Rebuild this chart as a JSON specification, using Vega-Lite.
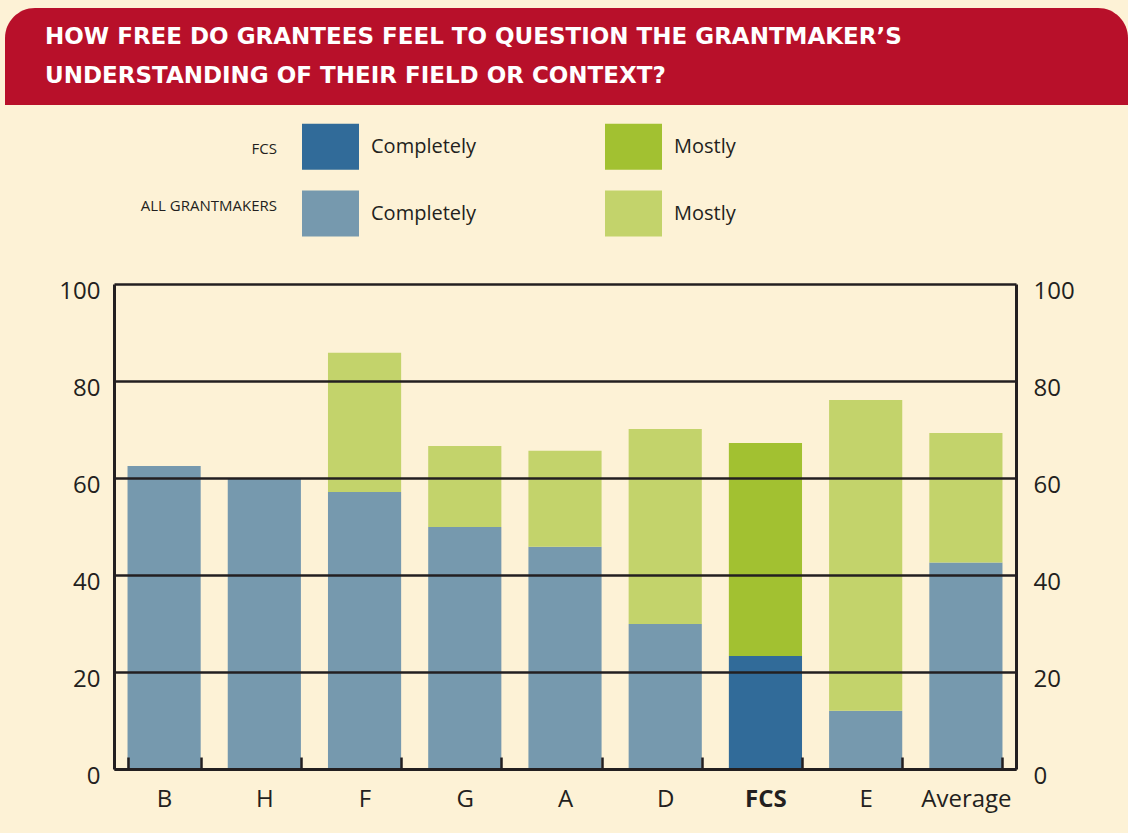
{
  "$schema": "https://vega.github.io/schema/vega-lite/v6.json",
  "background": "#FDF2D6",
  "padding": {"left": 5, "top": 8, "right": 0, "bottom": 22},
  "spacing": 13,
  "config": {
    "view": {"stroke": null},
    "font": "Open Sans"
  },
  "resolve": {"legend": {"color": "independent"}},
  "vconcat": [
    {
      "width": 1123,
      "height": 97,
      "data": {"values": [
        {"line": 1, "text": "HOW FREE DO GRANTEES FEEL TO QUESTION THE GRANTMAKER’S"},
        {"line": 2, "text": "UNDERSTANDING OF THEIR FIELD OR CONTEXT?"}
      ]},
      "layer": [
        {
          "transform": [{"filter": "datum.line === 1"}],
          "mark": {"type": "rect", "fill": "#B8102A", "cornerRadiusTopLeft": 30, "cornerRadiusTopRight": 30},
          "encoding": {}
        },
        {
          "mark": {"type": "text", "align": "left", "baseline": "middle", "dx": 40, "font": "DejaVu Sans", "fontWeight": "bold", "fontSize": 23, "color": "#FFFFFF"},
          "encoding": {
            "x": {"datum": "start", "type": "nominal", "scale": {"padding": 0, "align": 0}, "axis": null},
            "y": {"field": "line", "type": "ordinal", "scale": {"padding": 0.776}, "axis": null},
            "text": {"field": "text"}
          }
        }
      ],
      "resolve": {"scale": {"x": "independent", "y": "independent"}}
    },
    {
      "resolve": {"legend": {"color": "independent"}},
      "spacing": 0,
      "hconcat": [
        {
          "width": 1,
          "height": 1,
          "data": {"values": [{"spacer": 1}]},
          "mark": {"type": "rect", "opacity": 0},
          "encoding": {}
        },
        {
          "width": 902,
          "height": 485,
          "data": {"values": [
            {"cat": "B", "series": "All Completely", "ord": 1, "value": 62.5},
            {"cat": "H", "series": "All Completely", "ord": 1, "value": 60.0},
            {"cat": "F", "series": "All Completely", "ord": 1, "value": 57.1},
            {"cat": "F", "series": "All Mostly", "ord": 2, "value": 28.7},
            {"cat": "G", "series": "All Completely", "ord": 1, "value": 49.9},
            {"cat": "G", "series": "All Mostly", "ord": 2, "value": 16.7},
            {"cat": "A", "series": "All Completely", "ord": 1, "value": 45.8},
            {"cat": "A", "series": "All Mostly", "ord": 2, "value": 19.8},
            {"cat": "D", "series": "All Completely", "ord": 1, "value": 29.9},
            {"cat": "D", "series": "All Mostly", "ord": 2, "value": 40.2},
            {"cat": "FCS", "series": "FCS Completely", "ord": 1, "value": 23.3},
            {"cat": "FCS", "series": "FCS Mostly", "ord": 2, "value": 43.9},
            {"cat": "E", "series": "All Completely", "ord": 1, "value": 12.0},
            {"cat": "E", "series": "All Mostly", "ord": 2, "value": 64.1},
            {"cat": "Average", "series": "All Completely", "ord": 1, "value": 42.6},
            {"cat": "Average", "series": "All Mostly", "ord": 2, "value": 26.7}
          ]},
          "layer": [
            {
              "mark": {"type": "bar"},
              "encoding": {
                "x": {
                  "field": "cat", "type": "nominal", "title": null,
                  "sort": ["B", "H", "F", "G", "A", "D", "FCS", "E", "Average"],
                  "scale": {"paddingInner": 0.27, "paddingOuter": 0.135},
                  "axis": {
                    "orient": "bottom", "labelAngle": 0, "domainColor": "#231F20", "domainWidth": 3,
                    "tickBand": "extent", "tickColor": "#231F20", "tickWidth": 2.5, "tickSize": -12,
                    "labelPadding": 30, "labelFontSize": 24, "labelColor": "#231F20",
                    "labelFontWeight": {"condition": {"test": "datum.value === 'FCS'", "value": "bold"}, "value": "normal"},
                    "zindex": 1
                  }
                },
                "y": {
                  "field": "value", "type": "quantitative", "stack": "zero", "title": null,
                  "scale": {"domain": [0, 100], "nice": false},
                  "axis": {
                    "orient": "left", "values": [0, 20, 40, 60, 80, 100], "grid": true,
                    "gridColor": "#231F20", "gridWidth": 2.5, "domainColor": "#231F20", "domainWidth": 3,
                    "ticks": false, "labelPadding": 14, "labelFontSize": 24, "labelColor": "#231F20",
                    "labelOffset": 7, "minExtent": 108, "zindex": 1
                  }
                },
                "color": {
                  "field": "series", "type": "nominal",
                  "scale": {
                    "domain": ["FCS Completely", "FCS Mostly", "All Completely", "All Mostly"],
                    "range": ["#316B99", "#A2C131", "#7699AE", "#C3D36B"]
                  },
                  "legend": {
                    "orient": "none", "legendX": 27, "legendY": -166,
                    "direction": "horizontal", "columns": 2, "padding": 0,
                    "title": ["FCS", "ALL GRANTMAKERS"], "titleOrient": "left", "titleAlign": "right",
                    "titleAnchor": "middle", "titleBaseline": "middle",
                    "titleLineHeight": 57, "titlePadding": -112, "titleFont": "Open Sans",
                    "titleFontSize": 15, "titleFontWeight": "normal", "titleColor": "#231F20",
                    "symbolType": "M-1,-0.807H1V0.807H-1Z", "symbolSize": 3249,
                    "symbolStrokeWidth": 0, "symbolOpacity": 1,
                    "labelExpr": "split(datum.label, ' ')[1]", "labelFontSize": 20,
                    "labelColor": "#231F20", "labelOffset": 12,
                    "rowPadding": 15, "columnPadding": 128
                  }
                },
                "order": {"field": "ord", "type": "quantitative"}
              }
            },
            {
              "data": {"values": [{"edge": "top"}]},
              "mark": {"type": "rule", "strokeOpacity": 0},
              "encoding": {
                "y": {
                  "datum": 100, "type": "quantitative",
                  "axis": {
                    "orient": "right", "values": [0, 20, 40, 60, 80, 100], "grid": false,
                    "domainColor": "#231F20", "domainWidth": 3, "ticks": false,
                    "labelPadding": 17, "labelFontSize": 24, "labelColor": "#231F20",
                    "labelOffset": 7, "zindex": 1
                  }
                }
              }
            }
          ],
          "resolve": {"axis": {"y": "independent"}}
        }
      ]
    }
  ]
}
